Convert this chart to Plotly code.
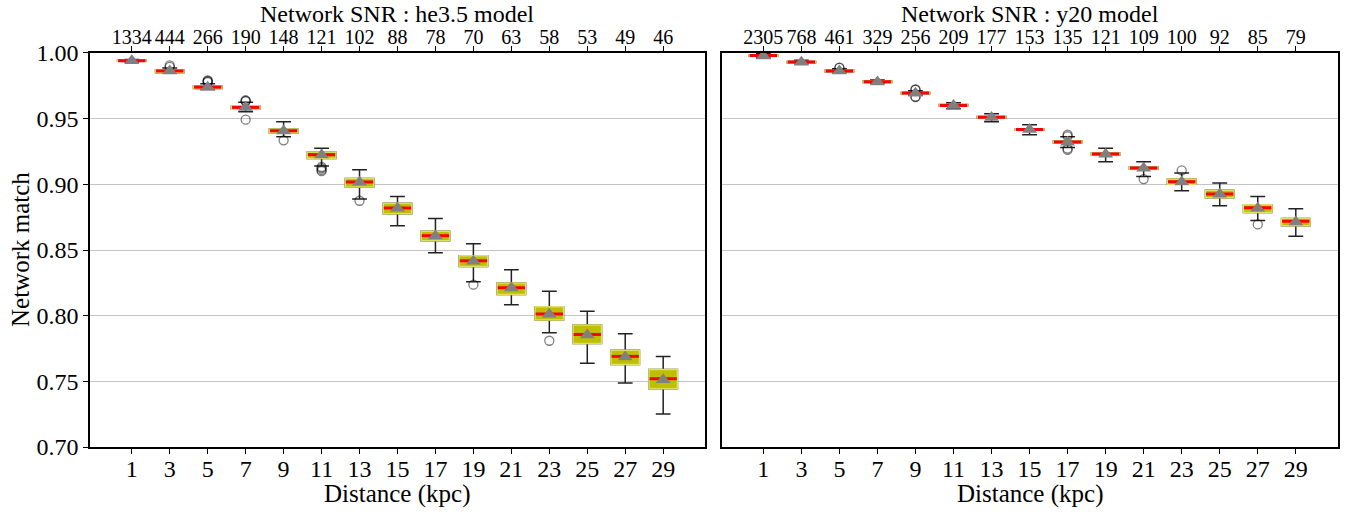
import plotly.graph_objects as go

# Source distances (kpc)
distance = [1, 3, 5, 7, 9, 11, 13, 15, 17, 19, 21, 23, 25, 27, 29]

# he3.5 model: network SNR per distance and match statistics
he35_snr = [1334, 444, 266, 190, 148, 121, 102, 88, 78, 70, 63, 58, 53, 49, 46]
he35_median = [0.9941, 0.9863, 0.9740, 0.9586, 0.9408, 0.9226, 0.9018, 0.8820,
               0.8609, 0.8418, 0.8213, 0.8013, 0.7857, 0.7690, 0.7520]
he35_mean = [0.9940, 0.9862, 0.9740, 0.9585, 0.9406, 0.9224, 0.9015, 0.8818,
             0.8606, 0.8414, 0.8210, 0.8010, 0.7853, 0.7686, 0.7513]
he35_q1 = [0.9938, 0.9850, 0.9730, 0.9572, 0.9390, 0.9197, 0.8980, 0.8776,
           0.8570, 0.8375, 0.8162, 0.7967, 0.7789, 0.7629, 0.7444]
he35_q3 = [0.9944, 0.9870, 0.9749, 0.9598, 0.9422, 0.9246, 0.9045, 0.8855,
           0.8642, 0.8457, 0.8249, 0.8068, 0.7929, 0.7736, 0.7591]
he35_low = [0.9932, 0.9845, 0.9722, 0.9553, 0.9363, 0.9140, 0.8888, 0.8685,
            0.8480, 0.8259, 0.8083, 0.7870, 0.7637, 0.7487, 0.7251]
he35_high = [0.9950, 0.9885, 0.9765, 0.9624, 0.9477, 0.9274, 0.9111, 0.8908,
             0.8740, 0.8548, 0.8350, 0.8185, 0.8033, 0.7863, 0.7690]
he35_out_x = [3, 3, 5, 5, 5, 5, 7, 7, 7, 7, 9, 11, 11, 11, 11, 13, 19, 23]
he35_out_y = [0.9905, 0.9895, 0.9792, 0.9787, 0.9782, 0.9778, 0.9640, 0.9636,
              0.9632, 0.9492, 0.9335, 0.9132, 0.9122, 0.9110, 0.9100, 0.8875,
              0.8236, 0.7809]

# y20 model
y20_snr = [2305, 768, 461, 329, 256, 209, 177, 153, 135, 121, 109, 100, 92, 85, 79]
y20_median = [0.9980, 0.9931, 0.9863, 0.9781, 0.9695, 0.9601, 0.9510, 0.9418,
              0.9322, 0.9231, 0.9124, 0.9020, 0.8926, 0.8822, 0.8718]
y20_mean = [0.9978, 0.9930, 0.9862, 0.9780, 0.9694, 0.9600, 0.9509, 0.9417,
            0.9321, 0.9229, 0.9122, 0.9018, 0.8924, 0.8818, 0.8714]
y20_q1 = [0.9976, 0.9926, 0.9857, 0.9776, 0.9690, 0.9596, 0.9505, 0.9412,
          0.9316, 0.9224, 0.9116, 0.9000, 0.8898, 0.8786, 0.8685]
y20_q3 = [0.9984, 0.9936, 0.9868, 0.9786, 0.9700, 0.9607, 0.9516, 0.9424,
          0.9329, 0.9238, 0.9131, 0.9040, 0.8954, 0.8845, 0.8740]
y20_low = [0.9962, 0.9918, 0.9850, 0.9768, 0.9680, 0.9576, 0.9477, 0.9378,
           0.9281, 0.9172, 0.9060, 0.8952, 0.8837, 0.8725, 0.8604]
y20_high = [0.9995, 0.9945, 0.9880, 0.9795, 0.9712, 0.9622, 0.9538, 0.9454,
            0.9363, 0.9274, 0.9172, 0.9086, 0.9010, 0.8908, 0.8814]
y20_out_x = [5, 5, 9, 9, 9, 9, 17, 17, 17, 17, 21, 23, 27]
y20_out_y = [0.9886, 0.9888, 0.9722, 0.9720, 0.9665, 0.9667, 0.9378, 0.9366,
             0.9262, 0.9272, 0.9040, 0.9106, 0.8695]

y_ticks = [0.70, 0.75, 0.80, 0.85, 0.90, 0.95, 1.00]

FONT = "Liberation Serif"
BOX_W = 1.5
HALF = 0.72
OLIVE = "#bfbf00"
EDGE = "#dede6a"
INK = "#222222"
W, H = 1358, 516
LEFT_DOM = [0.0663, 0.5191]
RIGHT_DOM = [0.5313, 0.9850]


def panel(xa, ya, xtop, med, mean, q1, q3, low, high, out_x, out_y):
    traces = []
    # whiskers and caps
    traces.append(go.Box(
        x=distance, q1=q1, median=med, q3=q3, lowerfence=low, upperfence=high,
        width=BOX_W, whiskerwidth=0.52, fillcolor=OLIVE,
        line=dict(color=INK, width=1.5), boxpoints=False,
        xaxis=xa, yaxis=ya, showlegend=False, hoverinfo="skip"))
    # interquartile boxes
    traces.append(go.Box(
        x=distance, q1=q1, median=med, q3=q3, lowerfence=q1, upperfence=q3,
        width=BOX_W, whiskerwidth=0.0, fillcolor=OLIVE,
        line=dict(color=EDGE, width=1.5), boxpoints=False,
        xaxis=xa, yaxis=ya, showlegend=False, hoverinfo="skip"))
    # median bars
    mx, my = [], []
    for d, m in zip(distance, med):
        mx += [d - HALF, d + HALF, None]
        my += [m, m, None]
    traces.append(go.Scatter(
        x=mx, y=my, mode="lines", line=dict(color="#ff0000", width=3),
        xaxis=xa, yaxis=ya, showlegend=False, hoverinfo="skip"))
    # outliers
    traces.append(go.Scatter(
        x=out_x, y=out_y, mode="markers",
        marker=dict(symbol="circle-open", size=9, color="rgba(0,0,0,0.5)",
                    line=dict(width=1.3)),
        xaxis=xa, yaxis=ya, showlegend=False, hoverinfo="skip"))
    # means (on the SNR axis, same range as distance axis)
    traces.append(go.Scatter(
        x=distance, y=mean, mode="markers",
        marker=dict(symbol="triangle-up", size=13, color="#808080"),
        xaxis=xtop, yaxis=ya, showlegend=False, hoverinfo="skip"))
    return traces


fig = go.Figure()
for t in panel("x", "y", "x3", he35_median, he35_mean, he35_q1, he35_q3,
               he35_low, he35_high, he35_out_x, he35_out_y):
    fig.add_trace(t)
for t in panel("x2", "y2", "x4", y20_median, y20_mean, y20_q1, y20_q3,
               y20_low, y20_high, y20_out_x, y20_out_y):
    fig.add_trace(t)

XR = [-1.2, 31.2]
YR = [0.70, 1.00]
YDOM = [0.1337, 0.8973]
tick_font = dict(family=FONT, size=24, color="black")
top_font = dict(family=FONT, size=20, color="black")
title_font = dict(family=FONT, size=25, color="black")
head_font = dict(family=FONT, size=24, color="black")

common_x = dict(range=XR, tickvals=distance, ticktext=[str(d) for d in distance],
                ticks="outside", ticklen=5, tickwidth=1.2, tickcolor="black",
                showline=True, linecolor="black", linewidth=1.5,
                showgrid=False, zeroline=False, tickfont=tick_font,
                automargin=False)
common_top = dict(range=XR, tickvals=distance, side="top",
                  ticks="outside", ticklen=5, tickwidth=1.2, tickcolor="black",
                  showline=True, linecolor="black", linewidth=1.5,
                  showgrid=False, zeroline=False, tickfont=top_font,
                  automargin=False)
common_y = dict(range=YR, domain=YDOM, tickvals=y_ticks,
                showgrid=True, gridcolor="#c4c4c4", gridwidth=1.3,
                showline=True, linecolor="black", linewidth=1.5, mirror=True,
                zeroline=False, automargin=False)


def px_x(p):
    return p / W


def px_y(p):
    return 1 - p / H


headers = [
    dict(text="Network SNR : he3.5 model", x=sum(LEFT_DOM) / 2, y=px_y(0),
         font=head_font, yanchor="top"),
    dict(text="Network SNR : y20 model", x=sum(RIGHT_DOM) / 2, y=px_y(0),
         font=head_font, yanchor="top"),
    dict(text="Distance (kpc)", x=sum(LEFT_DOM) / 2, y=px_y(494),
         font=title_font, yanchor="middle"),
    dict(text="Distance (kpc)", x=sum(RIGHT_DOM) / 2, y=px_y(494),
         font=title_font, yanchor="middle"),
]
annotations = [dict(xref="paper", yref="paper", xanchor="center",
                    showarrow=False, borderpad=0, **a)
               for a in headers]
annotations.append(dict(text="Network match", xref="paper", yref="paper",
                        x=px_x(20), y=sum(YDOM) / 2, textangle=-90,
                        xanchor="center", yanchor="middle", showarrow=False,
                        font=title_font))

fig.update_layout(
    width=W, height=H,
    margin=dict(l=0, r=0, t=0, b=0),
    paper_bgcolor="white", plot_bgcolor="white",
    boxmode="overlay",
    font=dict(family=FONT, color="black"),
    xaxis=dict(domain=LEFT_DOM, anchor="y", **common_x),
    xaxis2=dict(domain=RIGHT_DOM, anchor="y2", **common_x),
    xaxis3=dict(overlaying="x", anchor="y",
                ticktext=[str(s) for s in he35_snr], **common_top),
    xaxis4=dict(overlaying="x2", anchor="y2",
                ticktext=[str(s) for s in y20_snr], **common_top),
    yaxis=dict(anchor="x", ticks="outside", ticklen=5, tickwidth=1.2,
               tickcolor="black", tickfont=tick_font,
               ticktext=[f"{v:.2f}" for v in y_ticks], **common_y),
    yaxis2=dict(anchor="x2", ticks="", showticklabels=False, **common_y),
    annotations=annotations,
)

# bring tick labels a little closer to their axis lines
try:
    fig.update_layout(xaxis_ticklabelstandoff=-6, xaxis2_ticklabelstandoff=-6,
                      xaxis3_ticklabelstandoff=-6, xaxis4_ticklabelstandoff=-6)
except Exception:
    pass

fig.write_html("out.html")
